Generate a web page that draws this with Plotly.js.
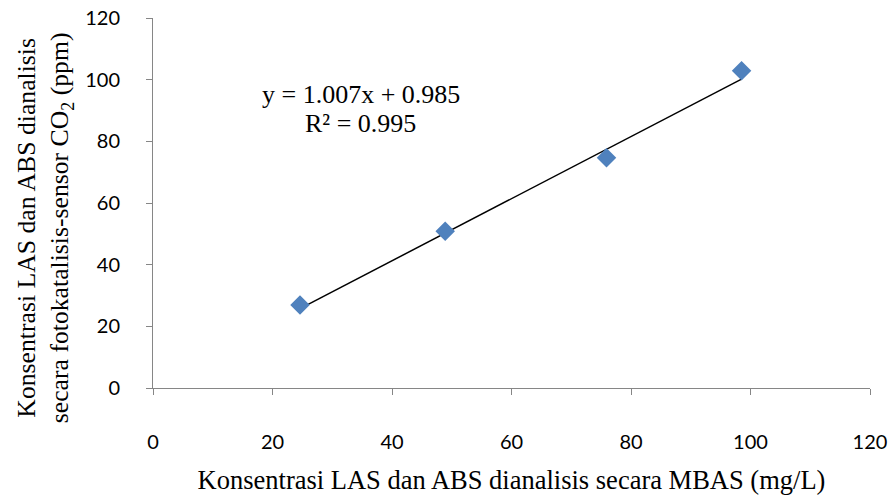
<!DOCTYPE html>
<html>
<head>
<meta charset="utf-8">
<script src="https://cdn.plot.ly/plotly-3.0.1.min.js"></script>
<style>html,body{margin:0;padding:0;background:#fff;}#chart{width:893px;height:497px;}</style>
</head>
<body>
<div id="chart"></div>
<script>
// Data
const xMBAS = [24.6, 48.9, 75.9, 98.5];
const ySensor = [26.9, 50.8, 74.7, 102.9];
const trendSlope = 1.007;
const trendIntercept = 0.985;
const eqLabel = "y = 1.007x + 0.985";
const r2Label = "R² = 0.995";
const xTicks = [0, 20, 40, 60, 80, 100, 120];
const yTicks = [0, 20, 40, 60, 80, 100, 120];

const xMin = Math.min(...xMBAS), xMax = Math.max(...xMBAS);
const trendX = [xMin, xMax];
const trendY = trendX.map(v => trendSlope * v + trendIntercept);

const serif = "'Liberation Serif', 'Times New Roman', serif";
const sans = "Lato, 'Open Sans', sans-serif";

const traces = [
  {x: trendX, y: trendY, mode: 'lines', type: 'scatter',
   line: {color: '#000000', width: 1.5}, hoverinfo: 'skip', showlegend: false},
  {x: xMBAS, y: ySensor, mode: 'markers', type: 'scatter',
   marker: {symbol: 'diamond', size: 15, color: '#4F81BD', line: {width: 0}},
   showlegend: false}
];

const layout = {
  width: 893, height: 497,
  margin: {l: 153, r: 23, t: 18, b: 109},
  paper_bgcolor: '#ffffff', plot_bgcolor: '#ffffff',
  showlegend: false,
  xaxis: {
    range: [0, 120], tickvals: xTicks, ticktext: xTicks.map(String),
    showgrid: false, zeroline: false, showline: true, linecolor: '#868686', linewidth: 1,
    ticks: 'outside', ticklen: 6, tickcolor: '#868686',
    ticklabelstandoff: 30,
    tickfont: {family: sans, size: 20, color: '#000'},
    title: {text: 'Konsentrasi LAS dan ABS dianalisis secara MBAS (mg/L)',
            font: {family: serif, size: 26.5, color: '#000'}, standoff: 18},
    automargin: false
  },
  yaxis: {
    range: [0, 120], tickvals: yTicks, ticktext: yTicks.map(String),
    showgrid: false, zeroline: false, showline: true, linecolor: '#868686', linewidth: 1,
    ticks: 'outside', ticklen: 6, tickcolor: '#868686',
    ticklabelstandoff: 22,
    tickfont: {family: sans, size: 20, color: '#000'},
    automargin: false
  },
  annotations: [
    {xref: 'x', yref: 'y', x: 34.8, y: 95.3, text: eqLabel, showarrow: false,
     font: {family: serif, size: 26, color: '#000'}},
    {xref: 'x', yref: 'y', x: 34.8, y: 85.9, text: r2Label, showarrow: false,
     font: {family: serif, size: 26, color: '#000'}},
    {xref: 'paper', yref: 'paper', x: -0.1506, y: 0.432, xanchor: 'center', yanchor: 'middle',
     textangle: -90, showarrow: false,
     text: 'Konsentrasi LAS dan ABS dianalisis<br>secara fotokatalisis-sensor CO<sub>2</sub> (ppm)',
     font: {family: serif, size: 25.7, color: '#000'}}
  ]
};

Plotly.newPlot('chart', traces, layout, {displayModeBar: false, staticPlot: true});
</script>
</body>
</html>
